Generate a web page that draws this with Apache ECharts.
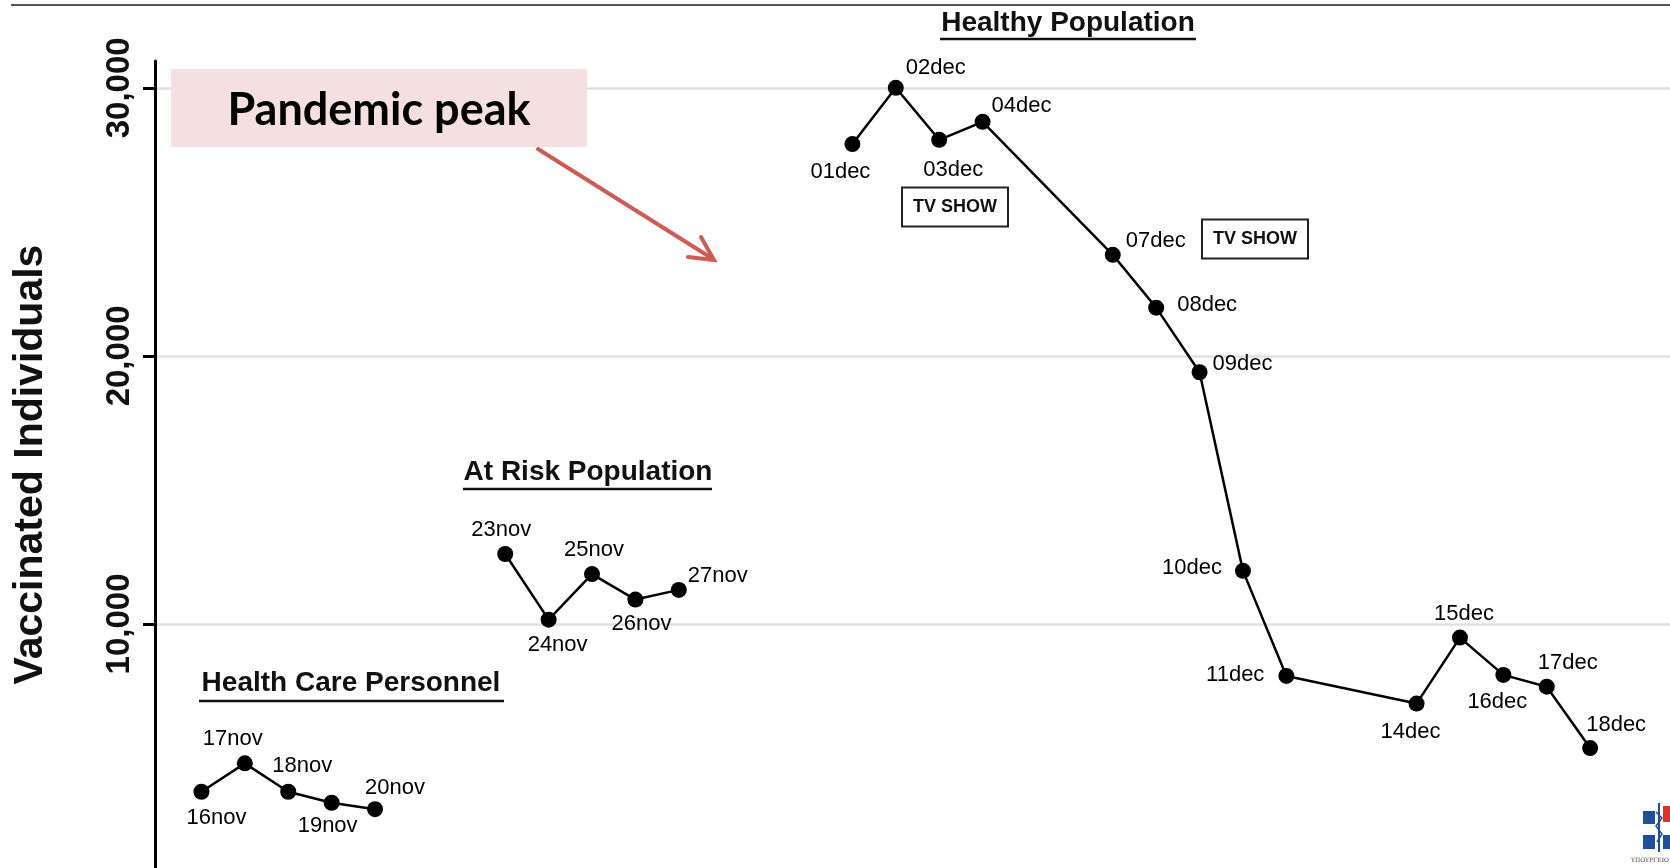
<!DOCTYPE html>
<html>
<head>
<meta charset="utf-8">
<title>Vaccinated Individuals</title>
<script src="https://cdn.jsdelivr.net/npm/echarts@6/dist/echarts.min.js"></script>
<style>
  html, body { margin: 0; padding: 0; background: #fff; }
  #chart { width: 1670px; height: 868px; }
</style>
</head>
<body>
<div id="chart"></div>
<script>
// Health care personnel
const hcpDates = ['2009-11-16', '2009-11-17', '2009-11-18', '2009-11-19', '2009-11-20']
const hcpValues = [3740, 4800, 3740, 3330, 3090]

// At risk population
const riskDates = ['2009-11-23', '2009-11-24', '2009-11-25', '2009-11-26', '2009-11-27']
const riskValues = [12610, 10160, 11860, 10910, 11270]

// Healthy population
const healthyDates = [
    '2009-12-01', '2009-12-02', '2009-12-03', '2009-12-04', '2009-12-07', '2009-12-08', '2009-12-09',
    '2009-12-10', '2009-12-11', '2009-12-14', '2009-12-15', '2009-12-16', '2009-12-17', '2009-12-18'
]
const healthyValues = [27900, 30000, 28060, 28730, 23770, 21800, 19390, 11980, 8060, 7030, 9490, 8100, 7660, 5370]

const yTicks = [10000, 20000, 30000]

// label placement next to each point
const hcpLabelPos = ['bottom', 'top', 'top', 'bottom', 'top']
const hcpLabelOff = [[15, 2], [-12, 0], [14, -2], [-4, -1], [20, 3]]
const riskLabelPos = ['top', 'bottom', 'top', 'bottom', 'right']
const riskLabelOff = [[-4, 0], [9, 1], [2, 0], [6, 0], [-4, -14]]
const healthyLabelPos = ['bottom', 'right', 'bottom', 'right', 'right', 'right', 'right', 'left', 'left', 'bottom', 'top', 'bottom', 'top', 'top']
const healthyLabelOff = [[-12, 4], [-3, -20], [14, 6], [-4, -16], [0, -14], [8, -3], [0, -8], [-8, -3], [-9, -1], [-6, 4], [4, 0], [-6, 3], [21, 0], [26, 1]]

const MONTHS = ['jan', 'feb', 'mar', 'apr', 'may', 'jun', 'jul', 'aug', 'sep', 'oct', 'nov', 'dec']
const FONT = "'Liberation Sans', Arial, Helvetica, sans-serif"
const DAY = 86400000
const firstDay = new Date(2009, 10, 16).getTime()

const dayLabel = (s) => s.slice(8, 10) + MONTHS[parseInt(s.slice(5, 7), 10) - 1]

const buildData = (dates, values, pos, off) => dates.map((d, i) => ({
    value: [d, values[i]],
    label: { position: pos[i], offset: off[i] }
}))

const makeSeries = (name, dates, values, pos, off) => ({
    name: name,
    type: 'line',
    data: buildData(dates, values, pos, off),
    symbol: 'circle',
    symbolSize: 16,
    showAllSymbol: true,
    lineStyle: { color: '#000', width: 2.5 },
    itemStyle: { color: '#000' },
    label: {
        show: true,
        color: '#000',
        fontFamily: FONT,
        fontSize: 22,
        formatter: (p) => dayLabel(p.value[0])
    },
    emphasis: { disabled: true },
    z: 3
})

const chart = echarts.init(document.getElementById('chart'))

const titleText = (text, x, y, lineX1, lineX2, lineY) => [
    {
        type: 'text',
        x: x,
        y: y,
        style: {
            text: text,
            fontFamily: FONT,
            fontSize: 28,
            fontWeight: 'bold',
            fill: '#111',
            align: 'center',
            verticalAlign: 'middle'
        }
    },
    {
        type: 'line',
        shape: { x1: lineX1, y1: lineY, x2: lineX2, y2: lineY },
        style: { stroke: '#111', lineWidth: 2.5 }
    }
]

const tvShow = (x, y) => ({
    type: 'text',
    x: x,
    y: y,
    style: {
        text: 'TV SHOW',
        fontFamily: FONT,
        fontSize: 18,
        fontWeight: 'bold',
        fill: '#111',
        align: 'center',
        verticalAlign: 'middle',
        lineHeight: 21,
        padding: [8, 10],
        borderColor: '#222',
        borderWidth: 2,
        backgroundColor: '#fff'
    }
})

chart.setOption({
    backgroundColor: '#fff',
    animation: false,
    grid: {
        left: 155,
        right: 0,
        top: 61,
        bottom: 0,
        containLabel: false
    },
    xAxis: {
        type: 'time',
        min: firstDay - 1.07 * DAY,
        max: firstDay + 33.84 * DAY,
        show: false,
        splitLine: { show: false }
    },
    yAxis: {
        type: 'value',
        // the axis runs off the bottom of the picture, just under 1,000
        min: 896,
        max: 31000,
        name: 'Vaccinated Individuals',
        nameLocation: 'middle',
        nameGap: 104,
        nameTextStyle: {
            fontFamily: FONT,
            fontSize: 41,
            fontWeight: 'bold',
            color: '#111'
        },
        axisLine: { show: true, lineStyle: { color: '#000', width: 3 } },
        axisTick: {
            show: true,
            length: 12,
            customValues: yTicks,
            lineStyle: { color: '#000', width: 3 }
        },
        axisLabel: {
            rotate: 90,
            margin: 19,
            fontFamily: FONT,
            fontSize: 33,
            fontWeight: 'bold',
            color: '#111',
            customValues: yTicks,
            formatter: (v) => v.toLocaleString('en-US')
        },
        splitLine: {
            show: true,
            lineStyle: { color: '#e0e0e0', width: 2.5 }
        }
    },
    series: [
        makeSeries('Health Care Personnel', hcpDates, hcpValues, hcpLabelPos, hcpLabelOff),
        makeSeries('At Risk Population', riskDates, riskValues, riskLabelPos, riskLabelOff),
        makeSeries('Healthy Population', healthyDates, healthyValues, healthyLabelPos, healthyLabelOff)
    ],
    graphic: [
        // slide rule on top
        {
            type: 'line',
            shape: { x1: 11, y1: 5, x2: 1670, y2: 5 },
            style: { stroke: '#555', lineWidth: 2 }
        },
        // pandemic peak callout
        {
            type: 'rect',
            shape: { x: 171, y: 69, width: 416, height: 78 },
            style: { fill: '#f4e0e0' },
            z: 10
        },
        {
            type: 'text',
            x: 379,
            y: 110,
            style: {
                text: 'Pandemic peak',
                fontFamily: "Lato, 'Open Sans', sans-serif",
                fontSize: 45,
                fontWeight: 'bold',
                fill: '#000',
                align: 'center',
                verticalAlign: 'middle'
            },
            z: 11
        },
        {
            type: 'line',
            shape: { x1: 538, y1: 149, x2: 713, y2: 259 },
            style: { stroke: '#cd5c55', lineWidth: 4, lineCap: 'round' },
            z: 10
        },
        {
            type: 'polyline',
            shape: { points: [[701, 237], [714, 260], [688, 257]] },
            style: { stroke: '#cd5c55', lineWidth: 4, lineCap: 'round', lineJoin: 'miter', fill: null },
            z: 10
        },
        // group titles
        ...titleText('Health Care Personnel', 351, 683, 199, 504, 701),
        ...titleText('At Risk Population', 588, 472, 463, 712, 489),
        ...titleText('Healthy Population', 1068, 23, 940, 1196, 39),
        // tv show notes
        tvShow(955, 207),
        tvShow(1255, 239),
        // ministry logo, cut off at the corner
        { type: 'rect', shape: { x: 1643, y: 811, width: 12, height: 13 }, style: { fill: '#1f4e9c' } },
        { type: 'rect', shape: { x: 1663, y: 806, width: 7, height: 16 }, style: { fill: '#e03030' } },
        { type: 'rect', shape: { x: 1643, y: 835, width: 12, height: 14 }, style: { fill: '#1f4e9c' } },
        { type: 'rect', shape: { x: 1663, y: 835, width: 7, height: 14 }, style: { fill: '#1f4e9c' } },
        {
            type: 'polyline',
            shape: { points: [[1659, 803], [1659, 852]] },
            style: { stroke: '#1f4e9c', lineWidth: 2 }
        },
        {
            type: 'polyline',
            shape: { points: [[1656, 812], [1662, 818], [1656, 826], [1662, 834], [1657, 842]] },
            style: { stroke: '#1f4e9c', lineWidth: 1.5, fill: null }
        },
        {
            type: 'text',
            x: 1631,
            y: 857,
            style: { text: 'ΥΠΟΥΡΓΕΙΟ', fontFamily: "'DejaVu Serif', serif", fontSize: 6, fill: '#333' }
        }
    ]
})
</script>
</body>
</html>
